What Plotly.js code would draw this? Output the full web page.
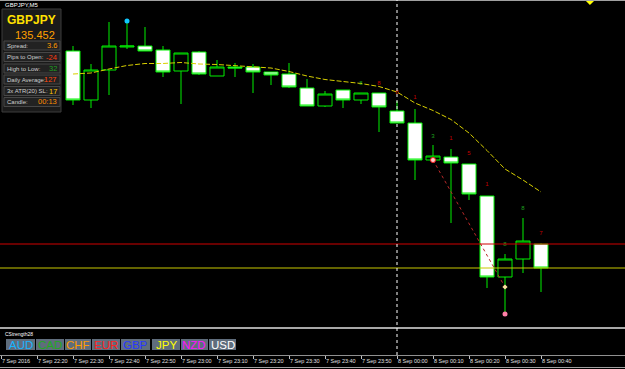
<!DOCTYPE html>
<html><head><meta charset="utf-8">
<script src="https://cdn.plot.ly/plotly-3.0.1.min.js"></script>
<style>html,body{margin:0;padding:0;background:#000;overflow:hidden}#chart{width:625px;height:369px}</style>
</head><body><div id="chart"></div>
<script>
// ---- data (GBPJPY, M5) ----
const symbolName = 'GBPJPY';
const chartTitle = 'GBPJPY,M5';
const times = ['2016-09-07 22:30','2016-09-07 22:35','2016-09-07 22:40','2016-09-07 22:45','2016-09-07 22:50','2016-09-07 22:55',
  '2016-09-07 23:00','2016-09-07 23:05','2016-09-07 23:10','2016-09-07 23:15','2016-09-07 23:20','2016-09-07 23:25',
  '2016-09-07 23:30','2016-09-07 23:35','2016-09-07 23:40','2016-09-07 23:45','2016-09-07 23:50','2016-09-07 23:55',
  '2016-09-08 00:00','2016-09-08 00:05','2016-09-08 00:10','2016-09-08 00:15','2016-09-08 00:20','2016-09-08 00:25',
  '2016-09-08 00:30','2016-09-08 00:35','2016-09-08 00:40'];
const openP  = [135.669,135.620,135.650,135.673,135.674,135.670,135.649,135.668,135.644,135.653,135.653,135.648,135.646,135.632,135.614,135.630,135.620,135.627,135.609,135.597,135.560,135.563,135.556,135.524,135.443,135.461,135.476];
const highP  = [135.674,135.656,135.698,135.698,135.693,135.674,135.667,135.669,135.660,135.657,135.656,135.648,135.657,135.641,135.629,135.630,135.627,135.627,135.619,135.611,135.575,135.571,135.556,135.524,135.466,135.502,135.477];
const lowP   = [135.615,135.612,135.625,135.671,135.669,135.643,135.616,135.645,135.644,135.643,135.627,135.635,135.632,135.614,135.613,135.612,135.616,135.588,135.597,135.540,135.560,135.497,135.520,135.432,135.407,135.447,135.428];
const closeP = [135.620,135.650,135.674,135.674,135.669,135.648,135.667,135.646,135.653,135.652,135.648,135.645,135.633,135.614,135.626,135.620,135.627,135.613,135.597,135.560,135.564,135.557,135.526,135.443,135.461,135.479,135.452];
const maP    = [135.646,135.647,135.651,135.6545,135.6565,135.6565,135.6575,135.656,135.6555,135.6545,135.653,135.652,135.6485,135.644,135.6405,135.6385,135.6365,135.6335,135.628,135.617,135.6095,135.6005,135.587,135.5695,135.551,135.540,135.528];
const bidPrice = 135.452;
const redLevel = 135.476;
// wave count labels
const waveTimes  = ['2016-09-07 23:50','2016-09-07 23:55','2016-09-08 00:00','2016-09-08 00:05','2016-09-08 00:10','2016-09-08 00:15','2016-09-08 00:20','2016-09-08 00:25','2016-09-08 00:30','2016-09-08 00:35','2016-09-08 00:40'];
const wavePrices = [135.637,135.637,135.628,135.623,135.584,135.582,135.567,135.536,135.476,135.512,135.487];
const waveTexts  = ['8','8','8','1','3','1','5','1','8','8','7'];
const waveColors = ['#1fa01f','#c00000','#d02000','#c00000','#1fa01f','#c00000','#c00000','#c00000','#1fa01f','#1fa01f','#c00000'];
// dotted trend
const trendTimes = ['2016-09-08 00:10','2016-09-08 00:30'];
const trendPrices = [135.560, 135.433];
// fractal / signal dots
const upFractalTime = ['2016-09-07 22:45'], upFractalPrice = [135.699];
const dnFractalTime = ['2016-09-08 00:30'], dnFractalPrice = [135.406];
const alertTime = ['2016-09-08 00:53:36'], alertPrice = [135.7195];
// time axis
const tickTimes = ['2016-09-07 22:10','2016-09-07 22:20','2016-09-07 22:30','2016-09-07 22:40','2016-09-07 22:50','2016-09-07 23:00','2016-09-07 23:10','2016-09-07 23:20','2016-09-07 23:30','2016-09-07 23:40','2016-09-07 23:50','2016-09-08 00:00','2016-09-08 00:10','2016-09-08 00:20','2016-09-08 00:30','2016-09-08 00:40'];
const tickLabels = ['7 Sep 2016','7 Sep 22:20','7 Sep 22:30','7 Sep 22:40','7 Sep 22:50','7 Sep 23:00','7 Sep 23:10','7 Sep 23:20','7 Sep 23:30','7 Sep 23:40','7 Sep 23:50','8 Sep 00:00','8 Sep 00:10','8 Sep 00:20','8 Sep 00:30','8 Sep 00:40'];
// info panel
const panelLabels = ['Spread:','Pips to Open:','High to Low:','Daily Average:','3x ATR(20) SL:','Candle:'];
const panelValues = ['3.6','-24','32','127','17','00:13'];
const panelColors = ['#ff9a00','#ff3a10','#20a020','#ff4a10','#ffc800','#ff8c00'];
// currency strength buttons
const currencies = ['AUD','CAD','CHF','EUR','GBP','JPY','NZD','USD'];
const currencyColors = ['#18b4ff','#22a822','#ff9a00','#ff2222','#2838ff','#ffff00','#ff10ff','#ffffff'];

// ---- layout helpers ----
const W = 625, H = 369;
const px = x => x / W, py = y => 1 - y / H;
const FONT = 'Liberation Sans, Arial, sans-serif';

const traces = [
  { type:'candlestick', x: times, open: openP, high: highP, low: lowP, close: closeP,
    increasing:{ line:{ color:'#00f000', width:1 }, fillcolor:'#000000' },
    decreasing:{ line:{ color:'#00f000', width:1 }, fillcolor:'#ffffff' },
    whiskerwidth: 0, hoverinfo:'skip', showlegend:false },
  { type:'scatter', mode:'lines', x: times, y: maP, line:{ color:'#d8d000', width:1, dash:'5px,2px' }, hoverinfo:'skip', showlegend:false },
  { type:'scatter', mode:'lines', x: trendTimes, y: trendPrices, line:{ color:'#b82828', width:1, dash:'dot' }, hoverinfo:'skip', showlegend:false },
  { type:'scatter', mode:'markers', x: upFractalTime, y: upFractalPrice, marker:{ color:'#10c8ff', size:5 }, hoverinfo:'skip', showlegend:false },
  { type:'scatter', mode:'markers', x: dnFractalTime, y: dnFractalPrice, marker:{ color:'#ff80a8', size:5 }, hoverinfo:'skip', showlegend:false },
  { type:'scatter', mode:'markers', x: [trendTimes[0]], y: [trendPrices[0]], marker:{ color:'#ffd0d0', size:5, symbol:'circle', line:{color:'#ff2020', width:1} }, hoverinfo:'skip', showlegend:false },
  { type:'scatter', mode:'markers', x: [trendTimes[1]], y: [trendPrices[1]], marker:{ color:'#ffe0a0', size:4, symbol:'diamond' }, hoverinfo:'skip', showlegend:false },
  { type:'scatter', mode:'markers', x: alertTime, y: alertPrice, marker:{ color:'#ffff00', size:7, symbol:'diamond' }, hoverinfo:'skip', showlegend:false },
  { type:'scatter', mode:'text', x: waveTimes, y: wavePrices, text: waveTexts, textfont:{ family: FONT, size:6, color: waveColors }, hoverinfo:'skip', showlegend:false }
];

const shapes = [
  { type:'line', xref:'paper', yref:'paper', x0:0, x1:1, y0:py(0.5), y1:py(0.5), line:{ color:'#a0a0a0', width:1 } },
  { type:'line', xref:'paper', yref:'y', x0:0, x1:1, y0:redLevel, y1:redLevel, line:{ color:'#d00000', width:1 } },
  { type:'line', xref:'paper', yref:'y', x0:0, x1:1, y0:bidPrice, y1:bidPrice, line:{ color:'#c8c800', width:1 } },
  { type:'line', xref:'paper', yref:'paper', x0:0, x1:1, y0:py(328), y1:py(328), line:{ color:'#a8a8a8', width:2 } },
  { type:'line', xref:'paper', yref:'paper', x0:0, x1:1, y0:py(367.5), y1:py(367.5), line:{ color:'#a0a0a0', width:1 } },
  { type:'line', xref:'x', yref:'paper', x0:times[18], x1:times[18], y0:py(355), y1:1, line:{ color:'#ffffff', width:1, dash:'dot' } },
  // info panel
  { type:'rect', xref:'paper', yref:'paper', layer:'above', x0:px(2), x1:px(61), y0:py(112), y1:py(9), fillcolor:'#1a1a1a', line:{ color:'#3c3c3c', width:1 } }
];
const annotations = [
  { xref:'paper', yref:'paper', x:px(3), y:py(5), xanchor:'left', yanchor:'middle', text: chartTitle, showarrow:false, font:{ family:FONT, size:6, color:'#ffffff' } },
  { xref:'paper', yref:'paper', x:px(31), y:py(19.5), xanchor:'center', yanchor:'middle', text:'<b>'+symbolName+'</b>', showarrow:false, font:{ family:FONT, size:12, color:'#ffe000' } },
  { xref:'paper', yref:'paper', x:px(35), y:py(34.5), xanchor:'center', yanchor:'middle', text: bidPrice.toFixed(3), showarrow:false, font:{ family:FONT, size:11, color:'#ffa000' } },
  { xref:'paper', yref:'paper', x:px(3), y:py(333.5), xanchor:'left', yanchor:'middle', text:'CStrength28', showarrow:false, font:{ family:FONT, size:5, color:'#ffffff' } }
];
const rowTops = [41, 52.5, 64, 75, 86.5, 97.5];
panelLabels.forEach((lab, r) => {
  const t = rowTops[r];
  shapes.push({ type:'rect', xref:'paper', yref:'paper', layer:'above', x0:px(4), x1:px(60), y0:py(t+9), y1:py(t), fillcolor:'#222222', line:{ color:'#474747', width:1 } });
  annotations.push({ xref:'paper', yref:'paper', x:px(5), y:py(t+4.7), xanchor:'left', yanchor:'middle', text: lab, showarrow:false, font:{ family:FONT, size:6, color:'#d0d0d0' } });
  annotations.push({ xref:'paper', yref:'paper', x:px(59), y:py(t+4.5), xanchor:'right', yanchor:'middle', text: panelValues[r], showarrow:false, font:{ family:FONT, size:7.5, color: panelColors[r] } });
});
const btnX = [[6,35],[36,64],[65,91],[92,120],[121,150],[152,180],[181,208],[209,236]];
currencies.forEach((c, i) => {
  shapes.push({ type:'rect', xref:'paper', yref:'paper', x0:px(btnX[i][0]), x1:px(btnX[i][1]), y0:py(350), y1:py(339), fillcolor:'#5f6d7c', line:{ width:0 } });
  annotations.push({ xref:'paper', yref:'paper', x:px((btnX[i][0]+btnX[i][1])/2), y:py(345), xanchor:'center', yanchor:'middle', text: c, showarrow:false, font:{ family:FONT, size:11.5, color: currencyColors[i] } });
});

const layout = {
  width: W, height: H, margin:{ l:0, r:0, t:0, b:0 }, paper_bgcolor:'#000000', plot_bgcolor:'#000000',
  showlegend:false, boxgap:0.22, boxgroupgap:0, hovermode:false,
  xaxis:{ type:'date', range:['2016-09-07 22:09:43.333','2016-09-08 01:03:20'], rangeslider:{ visible:false },
    anchor:'free', position: py(355), showgrid:false, zeroline:false, showline:true, linecolor:'#909090', linewidth:1,
    ticks:'outside', ticklen:3, tickcolor:'#c0c0c0', tickwidth:1, tickmode:'array', tickvals: tickTimes, ticktext: tickLabels,
    tickangle:0, ticklabelposition:'outside right', ticklabelstandoff:0, automargin:false,
    tickfont:{ family:FONT, size:5.5, color:'#e0e0e0' }, fixedrange:true },
  yaxis:{ range:[135.351, 135.720], domain:[0,1], visible:false, showgrid:false, zeroline:false, fixedrange:true },
  shapes: shapes, annotations: annotations
};
Plotly.newPlot('chart', traces, layout, { displayModeBar:false, staticPlot:true });
</script></body></html>
